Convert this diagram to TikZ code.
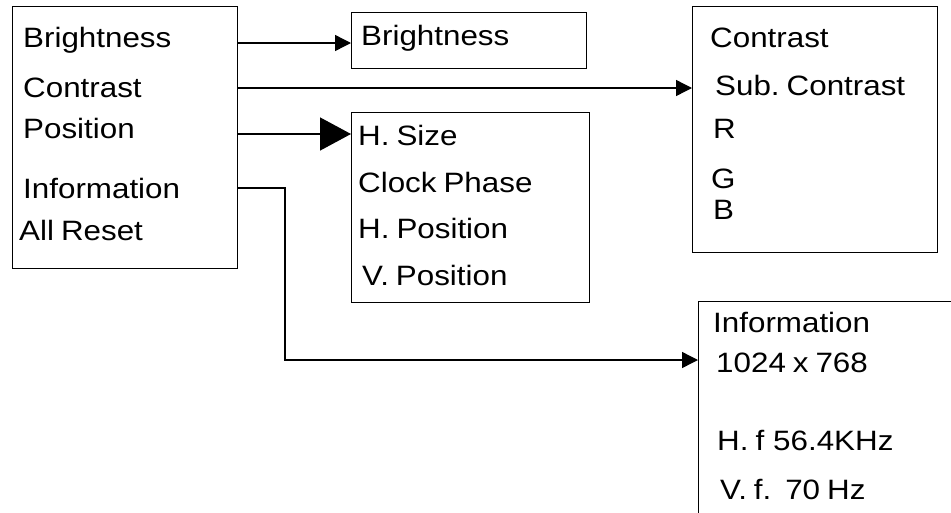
\documentclass[tikz,border=0pt]{standalone}
\usepackage{fontspec}
\setmainfont{Liberation Sans}[FakeStretch=1.12,WordSpace=0.8]
\usetikzlibrary{arrows.meta}
\frenchspacing
\begin{document}
\begin{tikzpicture}[x=1pt,y=-1pt,
  frame/.style={draw=black,line width=1.4pt,inner sep=0pt,anchor=north west},
  lbl/.style={inner sep=0pt,anchor=base west,font=\fontsize{28pt}{34pt}\selectfont},
  conn/.style={draw=black,line width=1.4pt},
  sarrow/.style={conn,-{Triangle[length=16pt,width=16pt]}},
  barrow/.style={conn,-{Triangle[length=31pt,width=33pt]}}]
\useasboundingbox (0,0) rectangle (951,512);
\clip (0,0) rectangle (951,512);
% boxes
\node[frame,minimum width=225pt,minimum height=262pt] (main) at (12,6) {};
\node[frame,minimum width=235pt,minimum height=56pt] (bright) at (351,12) {};
\node[frame,minimum width=238pt,minimum height=190pt] (pos) at (351,112) {};
\node[frame,minimum width=245pt,minimum height=246pt] (contr) at (692,6) {};
\node[frame,minimum width=280pt,minimum height=240pt] (info) at (698,301) {};
% main texts
\node[lbl] (m1) at (23,47) {Brightness};
\node[lbl] (m2) at (23,97) {Contrast};
\node[lbl] (m3) at (23,138) {Position};
\node[lbl] (m4) at (23,198) {Information};
\node[lbl] (m5) at (19,240) {All Reset};
% brightness box
\node[lbl] (b1) at (361,45) {Brightness};
% position box
\node[lbl] (p1) at (358,145) {H. Size};
\node[lbl] (p2) at (358,192) {Clock Phase};
\node[lbl] (p3) at (358,238) {H. Position};
\node[lbl] (p4) at (362,285) {V. Position};
% contrast box
\node[lbl] (c1) at (710,47) {Contrast};
\node[lbl] (c2) at (715,95) {Sub. Contrast};
\node[lbl] (c3) at (713,138) {R};
\node[lbl] (c4) at (711,188) {G};
\node[lbl] (c5) at (713,219) {B};
% information box
\node[lbl] (i1) at (713,332) {Information};
\node[lbl] (i2) at (716,372) {1024 x 768};
\node[lbl] (i3) at (717,450) {H. f\kern2pt{} 56.4KHz};
\node[lbl] (i4) at (720,499) {V. f.\kern7pt{} 70 Hz};
% connector levels
\coordinate (yB) at (0,43);
\coordinate (yC) at (0,88);
\coordinate (yP) at (0,134);
\coordinate (yI) at (0,188);
\coordinate (bend1) at (285,188);
\coordinate (bend2) at (285,360);
% connectors
\draw[sarrow] (main.east |- yB) -- (bright.west |- yB);
\draw[sarrow] (main.east |- yC) -- (contr.west |- yC);
\draw[barrow] (main.east |- yP) -- (pos.west |- yP);
\draw[sarrow] (main.east |- yI) -- (bend1) -- (bend2) -- (info.west |- bend2);
\end{tikzpicture}
\end{document}
